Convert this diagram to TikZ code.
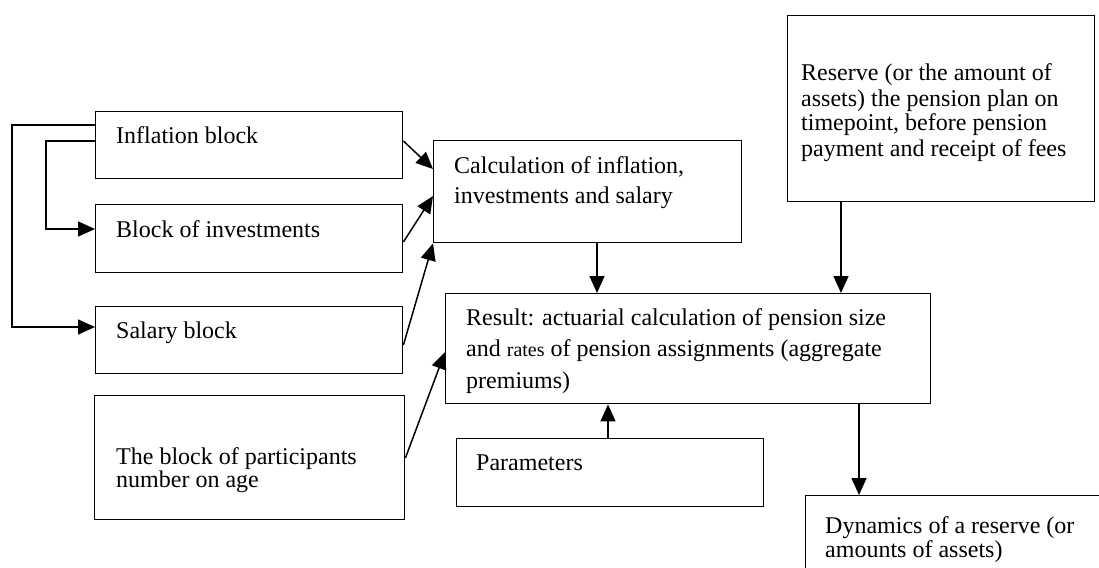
\documentclass[tikz,border=0pt]{standalone}
\usepackage{fontspec}
\setmainfont{Liberation Serif}
\usetikzlibrary{arrows.meta}
\tikzset{
  box/.style={draw, line width=1.4pt, inner sep=0pt, anchor=north west},
  txt/.style={inner sep=0pt, anchor=base west, align=left, font=\fontsize{24}{#1}\selectfont},
  txt/.default=25,
  con/.style={line width=1.5pt, -{Triangle[length=17pt,width=15pt]}},
}
\begin{document}
\begin{tikzpicture}[x=1pt,y=-1pt]
\useasboundingbox (0,0) rectangle (1099,567);
\clip (0,0) rectangle (1099,567);
% boxes
\node[box, minimum width=307pt, minimum height=67pt] (infl) at (95,111) {};
\node[box, minimum width=307pt, minimum height=68pt] (inv) at (95,204) {};
\node[box, minimum width=307pt, minimum height=67pt] (sal) at (95,306) {};
\node[box, minimum width=310pt, minimum height=124pt] (part) at (94,395) {};
\node[box, minimum width=308pt, minimum height=102pt] (calc) at (433,140) {};
\node[box, minimum width=485pt, minimum height=110pt] (res) at (445,293) {};
\node[box, minimum width=307pt, minimum height=68pt] (par) at (456,438) {};
\node[box, minimum width=320pt, minimum height=100pt] (dyn) at (805,495) {};
\node[box, minimum width=307pt, minimum height=186pt] (rsv) at (787,15) {};
% texts (anchor = baseline of last line)
\node[txt] (tinfl) at (116,143) {Inflation block};
\node[txt] (tinv) at (116,237) {Block of investments};
\node[txt] (tsal) at (116,338) {Salary block};
\node[txt=23] (tpart) at (116,487) {The block of participants\\number on age};
\node[txt=30] (tcalc) at (454,203) {Calculation of inflation,\\investments and salary};
\node[txt=31.5] (tres) at (466,388) {Result: actuarial calculation of pension size\\and {\fontsize{20}{20}\selectfont rates} of pension assignments (aggregate\\premiums)};
\node[txt] (tpar) at (476,470) {Parameters};
\node[txt=22] (tdyn) at (825,557) {Dynamics of a reserve (or\\amounts of assets)};
\node[txt=25] (trsv) at (801,156) {Reserve (or the amount of\\assets) the pension plan on\\timepoint, before pension\\payment and receipt of fees};
% connectors
\draw[con] (infl.west |- 0,125) -- (12,125) -- (12,327) -- (sal.west |- 0,327);
\draw[con] (infl.west |- 0,141) -- (46,141) -- (46,229) -- (inv.west |- 0,229);
\draw[con] (infl.east |- 0,141) -- (calc.west |- 0,169);
\draw[con] (inv.east |- 0,242) -- (calc.west |- 0,196);
\draw[con] (sal.east |- 0,345) -- (calc.south west);
\draw[con] (part.east |- 0,458) -- (res.west |- 0,352);
\draw[con] (calc.south -| 597,0) -- (res.north -| 597,0);
\draw[con] (par.north -| 608,0) -- (res.south -| 608,0);
\draw[con] (rsv.south -| 841,0) -- (res.north -| 841,0);
\draw[con] (res.south -| 859,0) -- (dyn.north -| 859,0);
\end{tikzpicture}
\end{document}
